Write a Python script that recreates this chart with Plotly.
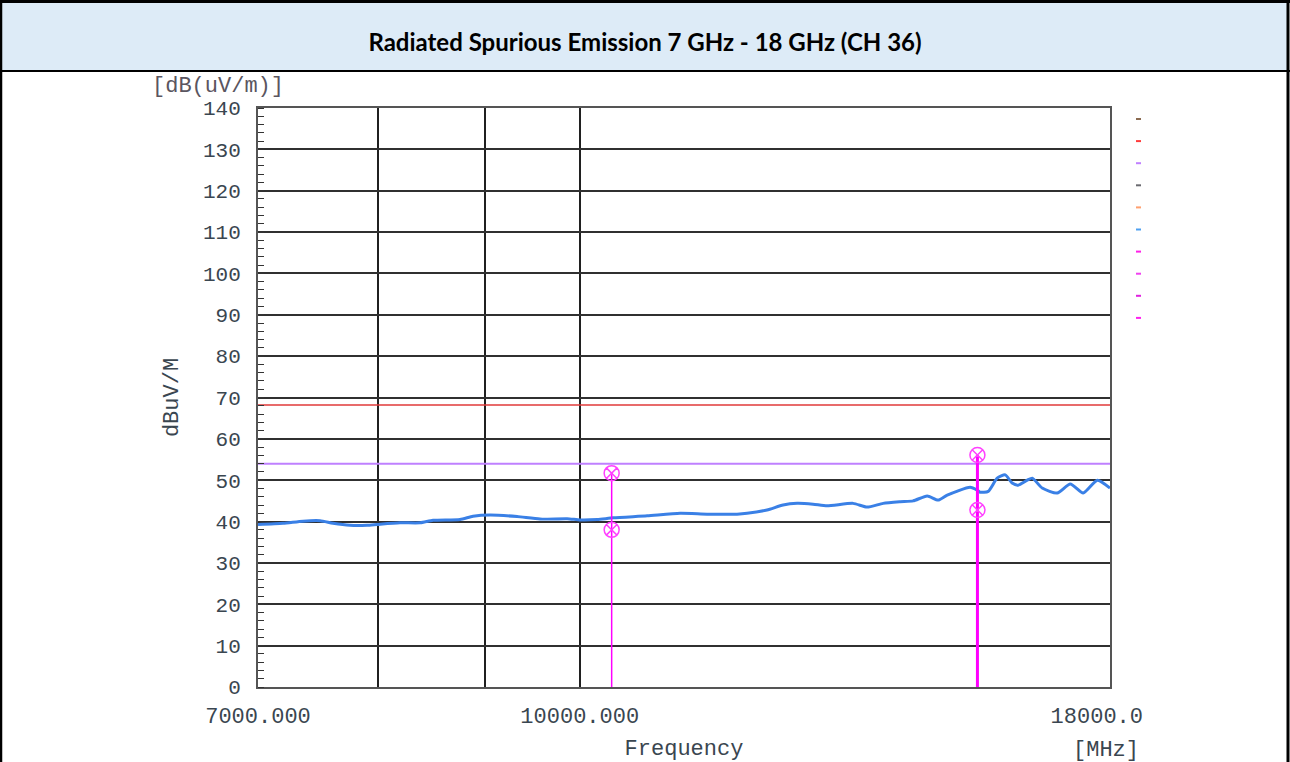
import plotly.graph_objects as go

freq_mhz = [7000, 7197, 7358, 7498, 7607, 7751, 7899, 7988, 8193, 8379, 8499,
            8757, 8884, 9054, 9329, 9570, 9861, 10004, 10195, 10378, 10776,
            11177, 11516, 11905, 12038, 12307, 12528, 12724, 12952, 13154,
            13539, 13751, 13998, 14264, 14471, 14698, 14878, 15028, 15415,
            15536, 15586, 15727, 15884, 16027, 16149, 16257, 16423, 16514,
            16697, 16977, 17225, 17473, 17750, 18000]
level_dbuv = [39.3, 39.6, 40.1, 40.2, 39.6, 39.1, 39.1, 39.3, 39.7, 39.7, 40.3,
              40.5, 41.3, 41.6, 41.2, 40.6, 40.7, 40.4, 40.5, 40.9, 41.4,
              42.0, 41.8, 41.8, 42.0, 42.8, 44.0, 44.4, 44.2, 43.8,
              44.4, 43.5, 44.4, 44.8, 45.0, 46.2, 45.2, 46.4, 48.3,
              47.6, 47.1, 47.3, 50.5, 51.3, 49.3, 48.8, 50.0, 50.5,
              48.1, 46.9, 49.1, 46.9, 50.0, 48.1]

# Limits
limit_peak = 68.2
limit_avg = 54.0

# Marker points (peak / average at 2nd and 3rd harmonics)
marker_freq = [10360, 10360, 15540, 15540]
marker_level = [51.7, 38.0, 56.1, 42.8]
stick_freq = [10360, 15540]
stick_level = [51.7, 56.1]
stick_width = [1.5, 3]

x_tickvals = [7000, 8000, 9000, 10000, 18000]
x_ticktext = ["7000.000", "", "", "10000.000", "18000.0\u00a0\u00a0"]
y_tickvals = list(range(0, 141, 10))

legend_colors = ["#8a6a50", "#ff3b3b", "#c080ff", "#6a6a70", "#ffa070",
                 "#4fa0f0", "#ff20e8", "#f040f0", "#e020e0", "#ff20f0"]

MONO = "Liberation Mono, Courier New, monospace"
TXT = "#3a4650"

# plot area in pixels
L, R, T, B = 258, 1110, 108, 687


def px(x):
    return (x - L) / (R - L)


def py(y):
    return (B - y) / (B - T)


fig = go.Figure()

fig.add_trace(go.Scatter(
    x=[7000, 18000], y=[limit_peak, limit_peak], mode="lines",
    line=dict(color="#e03a3a", width=1.5), hoverinfo="skip"))
fig.add_trace(go.Scatter(
    x=[7000, 18000], y=[limit_avg, limit_avg], mode="lines",
    line=dict(color="#bf80ff", width=2), hoverinfo="skip"))

fig.add_trace(go.Scatter(
    x=freq_mhz, y=level_dbuv, mode="lines",
    line=dict(color="#3a80e6", width=3, shape="spline", smoothing=0.6), name="Trace"))

for f, v, w in zip(stick_freq, stick_level, stick_width):
    fig.add_trace(go.Scatter(
        x=[f, f], y=[0, v], mode="lines",
        line=dict(color="#ff00ff", width=w), hoverinfo="skip"))

fig.add_trace(go.Scatter(
    x=marker_freq, y=marker_level, mode="markers",
    marker=dict(symbol="circle-x-open", size=15, color="#ff40ff",
                line=dict(width=1.5, color="#ff40ff"))))

shapes = []
# header band
shapes.append(dict(type="rect", xref="paper", yref="paper",
                   x0=px(1), x1=px(1288), y0=py(70), y1=py(2),
                   fillcolor="#ddebf7", line_width=0, layer="below"))
for x0, y0, x1, y1, w in [(0, 1.5, 1290, 1.5, 3), (1, 0, 1, 762, 2.5),
                          (1288, 0, 1288, 762, 3), (0, 71, 1290, 71, 2)]:
    shapes.append(dict(type="line", xref="paper", yref="paper",
                       x0=px(x0), y0=py(y0), x1=px(x1), y1=py(y1),
                       line=dict(color="black", width=w)))
# little legend dashes on the right
for i, c in enumerate(legend_colors):
    yy = 119 + i * 22.1
    shapes.append(dict(type="line", xref="paper", yref="paper",
                       x0=px(1136), x1=px(1141), y0=py(yy), y1=py(yy),
                       line=dict(color=c, width=2)))

fig.update_layout(
    width=1290, height=762,
    margin=dict(l=L, r=1290 - R, t=T, b=762 - B),
    paper_bgcolor="white", plot_bgcolor="white",
    showlegend=False,
    title=dict(text="<b>Radiated Spurious Emission 7 GHz - 18 GHz (CH 36)</b>",
               x=0.5, xanchor="center", y=1 - 43 / 762, yanchor="middle",
               font=dict(family="Lato, Open Sans, sans-serif", size=24, color="black")),
    shapes=shapes,
    annotations=[
        dict(text="[dB(uV/m)]", xref="paper", yref="paper", x=px(150), y=py(86),
             xanchor="left", yanchor="middle", showarrow=False,
             font=dict(family=MONO, size=22, color="#5a5560")),
        dict(text="[MHz]", xref="paper", yref="paper", x=px(1141), y=py(750),
             xanchor="right", yanchor="middle", showarrow=False,
             font=dict(family=MONO, size=22, color=TXT)),
    ],
)

fig.update_xaxes(
    type="log", range=[3.845098, 4.255273], automargin=False,
    tickvals=x_tickvals, ticktext=x_ticktext, ticks="",
    showgrid=True, gridcolor="#202020", gridwidth=1.5,
    showline=True, linecolor="#555555", linewidth=2, mirror=True,
    tickfont=dict(family=MONO, size=22, color=TXT), ticklabelstandoff=8,
    title=dict(text="Frequency", font=dict(family=MONO, size=22, color=TXT), standoff=16),
    zeroline=False,
)
fig.update_yaxes(
    range=[0, 140], tickvals=y_tickvals, ticks="", automargin=False,
    showgrid=True, gridcolor="#303030", gridwidth=1.5,
    showline=True, linecolor="#555555", linewidth=2, mirror=True,
    minor=dict(dtick=2, ticks="inside", ticklen=6, tickcolor="#333333", showgrid=False),
    tickfont=dict(family=MONO, size=21, color=TXT), ticklabelstandoff=11,
    title=dict(text="dBuV/M", font=dict(family=MONO, size=22, color=TXT), standoff=18),
    zeroline=False,
)

# page body has a default 8px margin; remove it so the figure fills the window
fig.write_html("out.html", config={"displayModeBar": False},
               post_script="document.body.style.margin='0';")
